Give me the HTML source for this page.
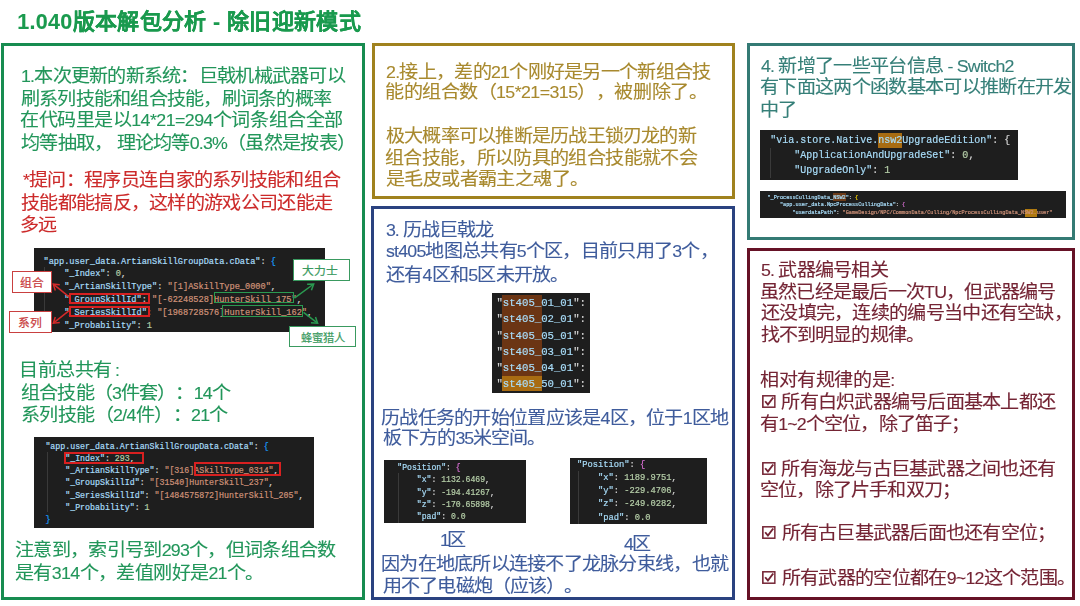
<!DOCTYPE html><html lang="zh-CN"><head><meta charset="utf-8"><style>
html,body{margin:0;padding:0;background:#fff}
body{width:1080px;height:606px;position:relative;overflow:hidden;font-family:"Liberation Sans",sans-serif}
#pg{position:absolute;left:0;top:0;width:1080px;height:606px;filter:blur(0.35px)}
.box{position:absolute;border:3px solid}
.code{position:absolute;background:#1e1e1e;overflow:hidden}
.cl{position:absolute;white-space:pre;font-family:"Liberation Mono",monospace;-webkit-text-stroke-width:0.2px}
.tl{position:absolute;white-space:nowrap;font-size:18px;line-height:20px;-webkit-text-stroke-width:0.12px;transform:scaleX(1.06);transform-origin:0 0;text-spacing-trim:space-all}
.title{transform:none}
.tl .l{font-size:16.8px}
.title{font-size:22px;font-weight:bold;line-height:26px}
.title .l{font-size:21.5px}
.ck{display:inline-block;width:13px;height:13px;vertical-align:0px;margin-right:1.5px}
.ck svg{display:block}
.lab{position:absolute;border:1.3px solid;background:#fff;font-size:11.8px;-webkit-text-stroke-width:0.2px;line-height:22.5px;text-align:center;white-space:nowrap;box-sizing:content-box}
</style></head><body><div id="pg">
<div class="box" style="left:1px;top:43px;width:358px;height:551px;border-color:#178c50"></div>
<div class="box" style="left:372px;top:43px;width:357px;height:150px;border-color:#a0821e"></div>
<div class="box" style="left:371px;top:206px;width:358px;height:388px;border-color:#2a4280"></div>
<div class="box" style="left:747px;top:43px;width:322px;height:191px;border-color:#347a74"></div>
<div class="box" style="left:747px;top:248px;width:322px;height:346px;border-color:#661226"></div>
<div class="code" style="left:34px;top:248px;width:291px;height:84px">

<div style="position:absolute;left:9.5px;top:19px;width:1px;height:62px;background:#3a3a3a"></div>
<div class="cl" style="left:9.5px;top:7.50px;font-size:8.62px;line-height:12.8px"><span style="color:#a8dcf8">&quot;app.user_data.ArtianSkillGroupData.cData&quot;</span><span style="color:#d4d4d4">: </span><span style="color:#179fff">{</span></div>
<div class="cl" style="left:9.5px;top:20.30px;font-size:8.62px;line-height:12.8px"><span style="color:#d4d4d4">    </span><span style="color:#a8dcf8">&quot;_Index&quot;</span><span style="color:#d4d4d4">: </span><span style="color:#b5cea8">0</span><span style="color:#d4d4d4">,</span></div>
<div class="cl" style="left:9.5px;top:33.10px;font-size:8.62px;line-height:12.8px"><span style="color:#d4d4d4">    </span><span style="color:#a8dcf8">&quot;_ArtianSkillType&quot;</span><span style="color:#d4d4d4">: </span><span style="color:#ce9178">&quot;[1]ASkillType_0000&quot;</span><span style="color:#d4d4d4">,</span></div>
<div class="cl" style="left:9.5px;top:45.90px;font-size:8.62px;line-height:12.8px"><span style="color:#d4d4d4">    </span><span style="color:#a8dcf8">&quot;_GroupSkillId&quot;</span><span style="color:#d4d4d4">: </span><span style="color:#ce9178">&quot;[-62248528]HunterSkill_175&quot;</span><span style="color:#d4d4d4">,</span></div>
<div class="cl" style="left:9.5px;top:58.70px;font-size:8.62px;line-height:12.8px"><span style="color:#d4d4d4">    </span><span style="color:#a8dcf8">&quot;_SeriesSkillId&quot;</span><span style="color:#d4d4d4">: </span><span style="color:#ce9178">&quot;[1968728576]HunterSkill_162&quot;</span><span style="color:#d4d4d4">,</span></div>
<div class="cl" style="left:9.5px;top:71.50px;font-size:8.62px;line-height:12.8px"><span style="color:#d4d4d4">    </span><span style="color:#a8dcf8">&quot;_Probability&quot;</span><span style="color:#d4d4d4">: </span><span style="color:#b5cea8">1</span></div>
</div>
<div class="code" style="left:34px;top:437px;width:280px;height:91px">

<div style="position:absolute;left:12.5px;top:15px;width:1px;height:60px;background:#3a3a3a"></div>
<div class="cl" style="left:11.4px;top:3.80px;font-size:8.28px;line-height:12.2px"><span style="color:#a8dcf8">&quot;app.user_data.ArtianSkillGroupData.cData&quot;</span><span style="color:#d4d4d4">: </span><span style="color:#179fff">{</span></div>
<div class="cl" style="left:11.4px;top:16.00px;font-size:8.28px;line-height:12.2px"><span style="color:#d4d4d4">    </span><span style="color:#a8dcf8">&quot;_Index&quot;</span><span style="color:#d4d4d4">: </span><span style="color:#b5cea8">293</span><span style="color:#d4d4d4">,</span></div>
<div class="cl" style="left:11.4px;top:28.20px;font-size:8.28px;line-height:12.2px"><span style="color:#d4d4d4">    </span><span style="color:#a8dcf8">&quot;_ArtianSkillType&quot;</span><span style="color:#d4d4d4">: </span><span style="color:#ce9178">&quot;[316]ASkillType_0314&quot;</span><span style="color:#d4d4d4">,</span></div>
<div class="cl" style="left:11.4px;top:40.40px;font-size:8.28px;line-height:12.2px"><span style="color:#d4d4d4">    </span><span style="color:#a8dcf8">&quot;_GroupSkillId&quot;</span><span style="color:#d4d4d4">: </span><span style="color:#ce9178">&quot;[31540]HunterSkill_237&quot;</span><span style="color:#d4d4d4">,</span></div>
<div class="cl" style="left:11.4px;top:52.60px;font-size:8.28px;line-height:12.2px"><span style="color:#d4d4d4">    </span><span style="color:#a8dcf8">&quot;_SeriesSkillId&quot;</span><span style="color:#d4d4d4">: </span><span style="color:#ce9178">&quot;[1484575872]HunterSkill_205&quot;</span><span style="color:#d4d4d4">,</span></div>
<div class="cl" style="left:11.4px;top:64.80px;font-size:8.28px;line-height:12.2px"><span style="color:#d4d4d4">    </span><span style="color:#a8dcf8">&quot;_Probability&quot;</span><span style="color:#d4d4d4">: </span><span style="color:#b5cea8">1</span></div>
<div class="cl" style="left:11.4px;top:77.00px;font-size:8.28px;line-height:12.2px"><span style="color:#179fff">}</span></div>
</div>
<div class="code" style="left:492px;top:293px;width:98px;height:100px">
<div style="position:absolute;left:10px;top:2.4px;width:40px;height:80.4px;background:#6b3514"></div><div style="position:absolute;left:10px;top:82.8px;width:40px;height:15.5px;background:#a86c12"></div>

<div class="cl" style="left:4.4px;top:2.30px;font-size:10.67px;line-height:16.14px"><span style="color:#d4d4d4">&quot;</span><span style="color:#a8dcf8">st405_01_01</span><span style="color:#d4d4d4">&quot;</span><span style="color:#d4d4d4">:</span></div>
<div class="cl" style="left:4.4px;top:18.44px;font-size:10.67px;line-height:16.14px"><span style="color:#d4d4d4">&quot;</span><span style="color:#a8dcf8">st405_02_01</span><span style="color:#d4d4d4">&quot;</span><span style="color:#d4d4d4">:</span></div>
<div class="cl" style="left:4.4px;top:34.58px;font-size:10.67px;line-height:16.14px"><span style="color:#d4d4d4">&quot;</span><span style="color:#a8dcf8">st405_05_01</span><span style="color:#d4d4d4">&quot;</span><span style="color:#d4d4d4">:</span></div>
<div class="cl" style="left:4.4px;top:50.72px;font-size:10.67px;line-height:16.14px"><span style="color:#d4d4d4">&quot;</span><span style="color:#a8dcf8">st405_03_01</span><span style="color:#d4d4d4">&quot;</span><span style="color:#d4d4d4">:</span></div>
<div class="cl" style="left:4.4px;top:66.86px;font-size:10.67px;line-height:16.14px"><span style="color:#d4d4d4">&quot;</span><span style="color:#a8dcf8">st405_04_01</span><span style="color:#d4d4d4">&quot;</span><span style="color:#d4d4d4">:</span></div>
<div class="cl" style="left:4.4px;top:83.00px;font-size:10.67px;line-height:16.14px"><span style="color:#d4d4d4">&quot;</span><span style="color:#a8dcf8">st405_50_01</span><span style="color:#d4d4d4">&quot;</span><span style="color:#d4d4d4">:</span></div>
</div>
<div class="code" style="left:384px;top:460px;width:142px;height:63px">

<div style="position:absolute;left:14px;top:13px;width:1px;height:50px;background:#3a3a3a"></div>
<div class="cl" style="left:13.3px;top:2.15px;font-size:8.15px;line-height:12.3px"><span style="color:#a8dcf8">&quot;Position&quot;</span><span style="color:#d4d4d4">: </span><span style="color:#da70d6">{</span></div>
<div class="cl" style="left:13.3px;top:14.45px;font-size:8.15px;line-height:12.3px"><span style="color:#d4d4d4">    </span><span style="color:#a8dcf8">&quot;x&quot;</span><span style="color:#d4d4d4">: </span><span style="color:#b5cea8">1132.6469</span><span style="color:#d4d4d4">,</span></div>
<div class="cl" style="left:13.3px;top:26.75px;font-size:8.15px;line-height:12.3px"><span style="color:#d4d4d4">    </span><span style="color:#a8dcf8">&quot;y&quot;</span><span style="color:#d4d4d4">: </span><span style="color:#b5cea8">-194.41267</span><span style="color:#d4d4d4">,</span></div>
<div class="cl" style="left:13.3px;top:39.05px;font-size:8.15px;line-height:12.3px"><span style="color:#d4d4d4">    </span><span style="color:#a8dcf8">&quot;z&quot;</span><span style="color:#d4d4d4">: </span><span style="color:#b5cea8">-170.65898</span><span style="color:#d4d4d4">,</span></div>
<div class="cl" style="left:13.3px;top:51.35px;font-size:8.15px;line-height:12.3px"><span style="color:#d4d4d4">    </span><span style="color:#a8dcf8">&quot;pad&quot;</span><span style="color:#d4d4d4">: </span><span style="color:#b5cea8">0.0</span></div>
</div>
<div class="code" style="left:569.5px;top:457.5px;width:137px;height:66px">

<div style="position:absolute;left:8.5px;top:13px;width:1px;height:53px;background:#3a3a3a"></div>
<div class="cl" style="left:7.5px;top:1.20px;font-size:8.75px;line-height:13.2px"><span style="color:#a8dcf8">&quot;Position&quot;</span><span style="color:#d4d4d4">: </span><span style="color:#da70d6">{</span></div>
<div class="cl" style="left:7.5px;top:14.40px;font-size:8.75px;line-height:13.2px"><span style="color:#d4d4d4">    </span><span style="color:#a8dcf8">&quot;x&quot;</span><span style="color:#d4d4d4">: </span><span style="color:#b5cea8">1189.9751</span><span style="color:#d4d4d4">,</span></div>
<div class="cl" style="left:7.5px;top:27.60px;font-size:8.75px;line-height:13.2px"><span style="color:#d4d4d4">    </span><span style="color:#a8dcf8">&quot;y&quot;</span><span style="color:#d4d4d4">: </span><span style="color:#b5cea8">-229.4706</span><span style="color:#d4d4d4">,</span></div>
<div class="cl" style="left:7.5px;top:40.80px;font-size:8.75px;line-height:13.2px"><span style="color:#d4d4d4">    </span><span style="color:#a8dcf8">&quot;z&quot;</span><span style="color:#d4d4d4">: </span><span style="color:#b5cea8">-249.0282</span><span style="color:#d4d4d4">,</span></div>
<div class="cl" style="left:7.5px;top:54.00px;font-size:8.75px;line-height:13.2px"><span style="color:#d4d4d4">    </span><span style="color:#a8dcf8">&quot;pad&quot;</span><span style="color:#d4d4d4">: </span><span style="color:#b5cea8">0.0</span></div>
</div>
<div class="code" style="left:760px;top:130px;width:258px;height:50px">
<div style="position:absolute;left:118.4px;top:2.9px;width:24px;height:14.8px;background:#a86c12"></div>
<div style="position:absolute;left:10px;top:18px;width:1px;height:30px;background:#3a3a3a"></div>
<div class="cl" style="left:10.3px;top:4.40px;font-size:10px;line-height:14.8px"><span style="color:#a8dcf8">&quot;via.store.Native.nsw2UpgradeEdition&quot;</span><span style="color:#d4d4d4">: </span><span style="color:#d4d4d4">{</span></div>
<div class="cl" style="left:10.3px;top:19.20px;font-size:10px;line-height:14.8px"><span style="color:#d4d4d4">    </span><span style="color:#a8dcf8">&quot;ApplicationAndUpgradeSet&quot;</span><span style="color:#d4d4d4">: </span><span style="color:#b5cea8">0</span><span style="color:#d4d4d4">,</span></div>
<div class="cl" style="left:10.3px;top:34.00px;font-size:10px;line-height:14.8px"><span style="color:#d4d4d4">    </span><span style="color:#a8dcf8">&quot;UpgradeOnly&quot;</span><span style="color:#d4d4d4">: </span><span style="color:#b5cea8">1</span></div>
</div>
<div class="code" style="left:760px;top:191px;width:306px;height:27px">
<div style="position:absolute;left:73.3px;top:2.2px;width:12.6px;height:7.4px;background:#6b3a18"></div><div style="position:absolute;left:264.9px;top:18.3px;width:12.6px;height:7.4px;background:#b07a10"></div>

<div class="cl" style="left:7.4px;top:3.70px;font-size:5.23px;line-height:7.65px"><span style="color:#a8dcf8">&quot;_ProcessCullingData_NSW2&quot;</span><span style="color:#d4d4d4">: </span><span style="color:#ffd700">{</span></div>
<div class="cl" style="left:7.4px;top:11.35px;font-size:5.23px;line-height:7.65px"><span style="color:#d4d4d4">    </span><span style="color:#a8dcf8">&quot;app.user_data.NpcProcessCullingData&quot;</span><span style="color:#d4d4d4">: </span><span style="color:#da70d6">{</span></div>
<div class="cl" style="left:7.4px;top:19.00px;font-size:5.23px;line-height:7.65px"><span style="color:#d4d4d4">        </span><span style="color:#a8dcf8">&quot;userdataPath&quot;</span><span style="color:#d4d4d4">: </span><span style="color:#ce9178">&quot;GameDesign/NPC/CommonData/Culling/NpcProcessCullingData_NSW2.user&quot;</span></div>
</div>
<div style="position:absolute;left:68.8px;top:292.6px;width:81.4px;height:11.4px;border:2px solid #d82020;box-sizing:border-box"></div>
<div style="position:absolute;left:68.8px;top:305.9px;width:81.4px;height:11.6px;border:2px solid #d82020;box-sizing:border-box"></div>
<div style="position:absolute;left:63.6px;top:451.9px;width:80.8px;height:12.1px;border:2px solid #d82020;box-sizing:border-box"></div>
<div style="position:absolute;left:193.6px;top:462.2px;width:87.2px;height:13.7px;border:2px solid #d82020;box-sizing:border-box"></div>
<div style="position:absolute;left:213.6px;top:292.4px;width:80.8px;height:11px;border:1.8px solid #2a9a50;box-sizing:border-box"></div>
<div style="position:absolute;left:222.1px;top:304.6px;width:81.1px;height:12.7px;border:1.8px solid #2a9a50;box-sizing:border-box"></div>
<div class="lab" style="left:11.8px;top:271.2px;width:38.2px;height:20px;border-color:#c94040;color:#c8383a">组合</div>
<div class="lab" style="left:8.7px;top:310.8px;width:41.3px;height:20px;border-color:#c94040;color:#c8383a">系列</div>
<div class="lab" style="left:292.9px;top:259.4px;width:54.9px;height:19.5px;border-color:#3a9a60;color:#3a9a60;text-indent:-2.5px">大力士</div>
<div class="lab" style="left:289.4px;top:326.4px;width:64.6px;height:19.1px;border-color:#3a9a60;color:#3a9a60;font-size:11.3px">蜂蜜猎人</div>
<svg style="position:absolute;left:0;top:0" width="1080" height="606"><line x1="68.8" y1="296.6" x2="53.3" y2="284.2" stroke="#d42a2a" stroke-width="1.5"/><polyline points="59.8,284.8 53.3,284.2 55.3,290.4" fill="none" stroke="#d42a2a" stroke-width="1.5"/><line x1="68.8" y1="310.8" x2="53.3" y2="323.2" stroke="#d42a2a" stroke-width="1.5"/><polyline points="55.3,317.0 53.3,323.2 59.8,322.6" fill="none" stroke="#d42a2a" stroke-width="1.5"/><line x1="294.4" y1="298.1" x2="313.7" y2="284.0" stroke="#2a9a50" stroke-width="1.5"/><polyline points="311.4,290.2 313.7,284.0 307.1,284.3" fill="none" stroke="#2a9a50" stroke-width="1.5"/><line x1="303.5" y1="312.3" x2="317.6" y2="323.2" stroke="#2a9a50" stroke-width="1.5"/><polyline points="311.0,322.7 317.6,323.2 315.5,317.0" fill="none" stroke="#2a9a50" stroke-width="1.5"/></svg>
<div id="title" class="tl title" style="left:17.14px;top:9.28px;letter-spacing:0.348px;color:#1a9a4e"><span class="l">1.040</span>版本解包分析<span class="l">&#32;-&#32;</span>除旧迎新模式</div>
<div id="G1" class="tl" style="left:21.00px;top:66.47px;letter-spacing:-0.760px;color:#22965a"><span class="l">1.</span>本次更新的新系统：巨戟机械武器可以</div>
<div id="G2" class="tl" style="left:20.52px;top:88.90px;letter-spacing:-0.787px;color:#22965a">刷系列技能和组合技能，刷词条的概率</div>
<div id="G3" class="tl" style="left:20.00px;top:110.05px;letter-spacing:-0.513px;color:#22965a">在代码里是以<span class="l">14*21=294</span>个词条组合全部</div>
<div id="G4" class="tl" style="left:20.90px;top:132.90px;letter-spacing:-0.747px;color:#22965a">均等抽取，<span class="l">&#32;</span>理论均等<span class="l">0.3%</span>（虽然是按表）</div>
<div id="R1" class="tl" style="left:22.85px;top:170.05px;letter-spacing:-0.738px;color:#cc2a2a"><span class="l">*</span>提问：程序员连自家的系列技能和组合</div>
<div id="R2" class="tl" style="left:20.52px;top:193.37px;letter-spacing:-0.731px;color:#cc2a2a">技能都能搞反，这样的游戏公司还能走</div>
<div id="R3" class="tl" style="left:20.00px;top:215.42px;letter-spacing:-0.770px;color:#cc2a2a">多远</div>
<div id="S1" class="tl" style="left:19.40px;top:360.00px;letter-spacing:-0.500px;color:#22965a">目前总共有 <span class="l">:</span></div>
<div id="S2" class="tl" style="left:21.38px;top:383.37px;letter-spacing:-0.847px;color:#22965a">组合技能（<span class="l">3</span>件套）：<span class="l">14</span>个</div>
<div id="S3" class="tl" style="left:21.38px;top:404.56px;letter-spacing:-0.637px;color:#22965a">系列技能（<span class="l">2/4</span>件）：<span class="l">21</span>个</div>
<div id="N1" class="tl" style="left:15.43px;top:540.42px;letter-spacing:-0.710px;color:#22965a">注意到，索引号到<span class="l">293</span>个，但词条组合数</div>
<div id="N2" class="tl" style="left:15.43px;top:562.75px;letter-spacing:-0.632px;color:#22965a">是有<span class="l">314</span>个，差值刚好是<span class="l">21</span>个。</div>
<div id="Y1" class="tl" style="left:385.66px;top:61.61px;letter-spacing:-0.718px;color:#a8892e"><span class="l">2.</span>接上，差的<span class="l">21</span>个刚好是另一个新组合技</div>
<div id="Y2" class="tl" style="left:384.76px;top:82.23px;letter-spacing:-0.540px;color:#a8892e">能的组合数（<span class="l">15*21=315</span>），被删除了。</div>
<div id="Y3" class="tl" style="left:385.66px;top:125.75px;letter-spacing:-0.804px;color:#a8892e">极大概率可以推断是历战王锁刃龙的新</div>
<div id="Y4" class="tl" style="left:384.76px;top:148.17px;letter-spacing:-0.691px;color:#a8892e">组合技能，所以防具的组合技能就不会</div>
<div id="Y5" class="tl" style="left:385.66px;top:169.08px;letter-spacing:-0.626px;color:#a8892e">是毛皮或者霸主之魂了。</div>
<div id="B1" class="tl" style="left:385.52px;top:220.05px;letter-spacing:-0.963px;color:#3f5c9c"><span class="l">3.&#32;</span>历战巨戟龙</div>
<div id="B2" class="tl" style="left:385.52px;top:241.48px;letter-spacing:-0.761px;color:#3f5c9c"><span class="l">st405</span>地图总共有<span class="l">5</span>个区，目前只用了<span class="l">3</span>个，</div>
<div id="B3" class="tl" style="left:385.52px;top:264.52px;letter-spacing:-0.752px;color:#3f5c9c">还有<span class="l">4</span>区和<span class="l">5</span>区未开放。</div>
<div id="B4" class="tl" style="left:381.05px;top:407.75px;letter-spacing:-0.751px;color:#3f5c9c">历战任务的开始位置应该是<span class="l">4</span>区，位于<span class="l">1</span>区地</div>
<div id="B5" class="tl" style="left:382.85px;top:428.37px;letter-spacing:-0.930px;color:#3f5c9c">板下方的<span class="l">35</span>米空间。</div>
<div id="Z1" class="tl" style="left:440.43px;top:530.33px;letter-spacing:-2.300px;color:#3f5c9c"><span class="l">1</span>区</div>
<div id="Z4" class="tl" style="left:624.28px;top:533.90px;letter-spacing:-1.760px;color:#3f5c9c"><span class="l">4</span>区</div>
<div id="B6" class="tl" style="left:381.05px;top:553.90px;letter-spacing:-0.765px;color:#3f5c9c">因为在地底所以连接不了龙脉分束线，也就</div>
<div id="B7" class="tl" style="left:382.85px;top:576.23px;letter-spacing:-0.898px;color:#3f5c9c">用不了电磁炮（应该）。</div>
<div id="T1" class="tl" style="left:760.66px;top:55.76px;letter-spacing:-0.727px;color:#357f78"><span class="l">4.&#32;</span>新增了一些平台信息<span class="l">&#32;-&#32;Switch2</span></div>
<div id="T2" class="tl" style="left:759.76px;top:77.24px;letter-spacing:-0.714px;color:#357f78">有下面这两个函数基本可以推断在开发</div>
<div id="T3" class="tl" style="left:759.76px;top:100.09px;letter-spacing:-1.400px;color:#357f78">中了</div>
<div id="M1" class="tl" style="left:760.71px;top:259.71px;letter-spacing:-0.759px;color:#742434"><span class="l">5.&#32;</span>武器编号相关</div>
<div id="M2" class="tl" style="left:759.81px;top:281.69px;letter-spacing:-0.798px;color:#742434">虽然已经是最后一次<span class="l">TU</span>，但武器编号</div>
<div id="M3" class="tl" style="left:760.71px;top:303.05px;letter-spacing:-0.742px;color:#742434">还没填完，连续的编号当中还有空缺，</div>
<div id="M4" class="tl" style="left:760.71px;top:324.67px;letter-spacing:-0.939px;color:#742434">找不到明显的规律。</div>
<div id="M5" class="tl" style="left:760.44px;top:370.44px;letter-spacing:-0.449px;color:#742434">相对有规律的是<span class="l">:</span></div>
<div id="M6" class="tl" style="left:761.71px;top:392.23px;letter-spacing:-0.798px;color:#742434"><span class="ck"><svg width="13" height="13" viewBox="0 0 13 13"><rect x="0.8" y="0.8" width="11.4" height="11.4" fill="none" stroke="currentColor" stroke-width="1.5"/><path d="M3 6.3 L5.6 9.6 L10.6 2.6" fill="none" stroke="currentColor" stroke-width="1.8"/></svg></span><span class="l">&#32;</span>所有白炽武器编号后面基本上都还</div>
<div id="M7" class="tl" style="left:759.81px;top:413.85px;letter-spacing:-0.830px;color:#742434">有<span class="l">1~2</span>个空位，除了笛子；</div>
<div id="M8" class="tl" style="left:761.71px;top:458.90px;letter-spacing:-0.798px;color:#742434"><span class="ck"><svg width="13" height="13" viewBox="0 0 13 13"><rect x="0.8" y="0.8" width="11.4" height="11.4" fill="none" stroke="currentColor" stroke-width="1.5"/><path d="M3 6.3 L5.6 9.6 L10.6 2.6" fill="none" stroke="currentColor" stroke-width="1.8"/></svg></span><span class="l">&#32;</span>所有海龙与古巨基武器之间也还有</div>
<div id="M9" class="tl" style="left:759.81px;top:480.28px;letter-spacing:-0.833px;color:#742434">空位，除了片手和双刀；</div>
<div id="M10" class="tl" style="left:761.71px;top:523.05px;letter-spacing:-0.770px;color:#742434"><span class="ck"><svg width="13" height="13" viewBox="0 0 13 13"><rect x="0.8" y="0.8" width="11.4" height="11.4" fill="none" stroke="currentColor" stroke-width="1.5"/><path d="M3 6.3 L5.6 9.6 L10.6 2.6" fill="none" stroke="currentColor" stroke-width="1.8"/></svg></span><span class="l">&#32;</span>所有古巨基武器后面也还有空位；</div>
<div id="M11" class="tl" style="left:761.71px;top:568.42px;letter-spacing:-0.699px;color:#742434"><span class="ck"><svg width="13" height="13" viewBox="0 0 13 13"><rect x="0.8" y="0.8" width="11.4" height="11.4" fill="none" stroke="currentColor" stroke-width="1.5"/><path d="M3 6.3 L5.6 9.6 L10.6 2.6" fill="none" stroke="currentColor" stroke-width="1.8"/></svg></span><span class="l">&#32;</span>所有武器的空位都在<span class="l">9~12</span>这个范围。</div>
</div></body></html>
